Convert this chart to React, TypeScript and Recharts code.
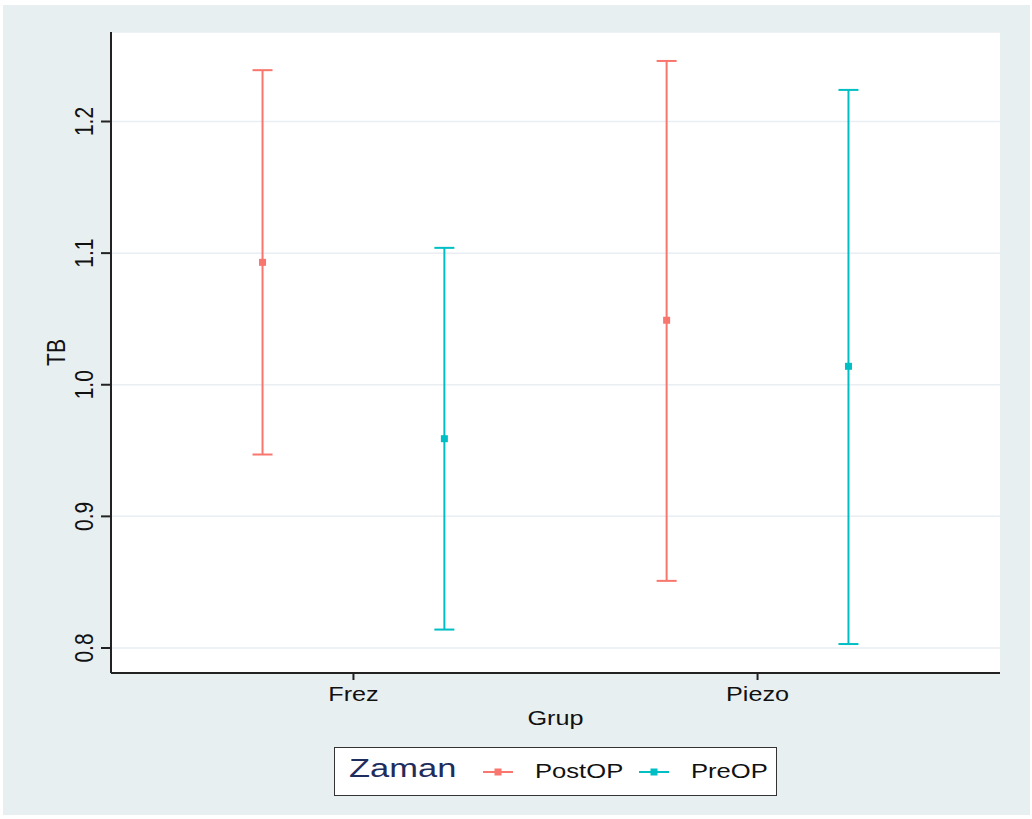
import { CartesianGrid, ErrorBar, Scatter, ScatterChart, XAxis, YAxis } from "recharts";

const categories = ["Frez", "Piezo"];
const postMean = [1.093, 1.049];
const postLow = [0.947, 0.851];
const postHigh = [1.239, 1.246];
const preMean = [0.959, 1.014];
const preLow = [0.814, 0.803];
const preHigh = [1.104, 1.224];
const yTicks = [0.8, 0.9, 1.0, 1.1, 1.2];

const POST = "#f8766d";
const PRE = "#00bfc4";
const FONT = "'Liberation Sans', Arial, sans-serif";
const AXIS = "#222";

const build = (mean: number[], low: number[], high: number[], shift: number) =>
  mean.map((m, i) => ({
    x: i + 1 + shift,
    y: m,
    err: [m - low[i], high[i] - m],
  }));

const postData = build(postMean, postLow, postHigh, -0.225);
const preData = build(preMean, preLow, preHigh, 0.225);

const square = (color: string) => (p: any) =>
  <rect x={p.cx - 3.5} y={p.cy - 3.5} width={7} height={7} fill={color} />;

const XTick = ({ x, y, payload }: any) => (
  <text transform={`translate(${x},${y + 19}) scale(1.2,1)`} textAnchor="middle" fontSize={21} fill="#111" fontFamily={FONT}>
    {categories[payload.value - 1]}
  </text>
);

const YTick = ({ x, y, payload }: any) => (
  <text transform={`translate(${x - 6},${y}) scale(1.2,1) rotate(-90)`} textAnchor="middle" fontSize={21} fill="#111" fontFamily={FONT}>
    {Number(payload.value).toFixed(1)}
  </text>
);

// legend entries: [label, colour, key x, text x] inside the legend box
const legendItems: [string, string, number, number][] = [
  ["PostOP", POST, 149, 201],
  ["PreOP", PRE, 305, 357],
];

function ChartLegend() {
  return (
    <svg
      width={443}
      height={49}
      style={{ position: "absolute", left: 334, top: 747, display: "block" }}
    >
      <rect x={0.5} y={0.5} width={442} height={48} fill="#fff" stroke="#333" strokeWidth={1} />
      <text transform="translate(15,30) scale(1.38,1)" fontSize={25} fill="#1f2d5c" fontFamily={FONT}>
        Zaman
      </text>
      {legendItems.map(([label, color, kx, tx]) => (
        <g key={label}>
          <line x1={kx} y1={25} x2={kx + 30} y2={25} stroke={color} strokeWidth={2} />
          <rect x={kx + 11.5} y={21.5} width={7} height={7} fill={color} />
          <text transform={`translate(${tx},31) scale(1.22,1)`} fontSize={21} fill="#111" fontFamily={FONT}>
            {label}
          </text>
        </g>
      ))}
    </svg>
  );
}

export default function App() {
  return (
    <div style={{ position: "absolute", left: 0, top: 0, width: 1032, height: 819, background: "#fff", fontFamily: FONT }}>
      <div style={{ position: "absolute", left: 3, top: 5, width: 1027, height: 810, background: "#e8eff1" }} />
      <div style={{ position: "absolute", left: 0, top: 0 }}>
        <ScatterChart width={1032} height={819} margin={{ top: 32, right: 32, left: 51, bottom: 86 }}>
          <CartesianGrid vertical={false} stroke="#e8eef1" strokeWidth={1.5} fill="#fff" />
          <XAxis
            type="number"
            dataKey="x"
            domain={[0.4, 2.6]}
            ticks={[1, 2]}
            allowDataOverflow
            height={60}
            tickSize={7}
            stroke={AXIS}
            strokeWidth={2}
            tick={<XTick />}
            label={(p: any) => (
              <text
                transform={`translate(${p.viewBox.x + p.viewBox.width / 2},${p.viewBox.y + 52}) scale(1.2,1)`}
                textAnchor="middle"
                fontSize={21}
                fill="#111"
                fontFamily={FONT}
              >
                Grup
              </text>
            )}
          />
          <YAxis
            type="number"
            dataKey="y"
            domain={[0.781, 1.268]}
            ticks={yTicks}
            allowDataOverflow
            width={60}
            tickSize={10}
            stroke={AXIS}
            strokeWidth={2}
            tick={<YTick />}
            label={(p: any) => (
              <text
                transform={`translate(${p.viewBox.x + 14},${p.viewBox.y + p.viewBox.height / 2}) scale(1.2,1) rotate(-90)`}
                textAnchor="middle"
                fontSize={21}
                fill="#111"
                fontFamily={FONT}
              >
                TB
              </text>
            )}
          />
          <Scatter name="PostOP" data={postData} fill={POST} shape={square(POST)} isAnimationActive={false}>
            <ErrorBar dataKey="err" direction="y" width={10} stroke={POST} strokeWidth={2} />
          </Scatter>
          <Scatter name="PreOP" data={preData} fill={PRE} shape={square(PRE)} isAnimationActive={false}>
            <ErrorBar dataKey="err" direction="y" width={10} stroke={PRE} strokeWidth={2} />
          </Scatter>
        </ScatterChart>
      </div>
      <ChartLegend />
    </div>
  );
}
